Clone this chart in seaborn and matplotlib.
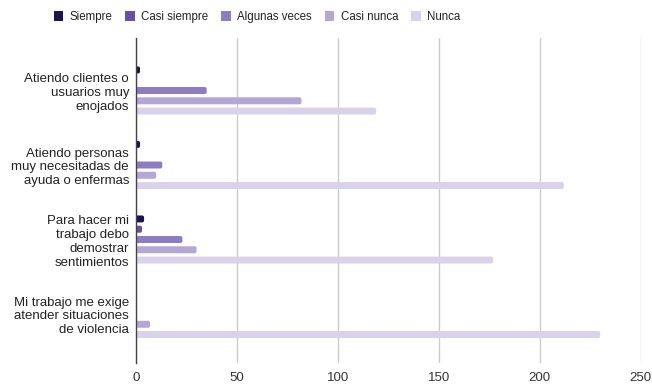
import numpy as np
import pandas as pd
import matplotlib
matplotlib.use("Agg")
import matplotlib.pyplot as plt
from matplotlib.patches import FancyBboxPatch, Patch
from matplotlib import font_manager
import seaborn as sns

# Survey items (y axis) and answer frequencies per response level
items = [
    "Atiendo clientes o\nusuarios muy\nenojados",
    "Atiendo personas\nmuy necesitadas de\nayuda o enfermas",
    "Para hacer mi\ntrabajo debo\ndemostrar\nsentimientos",
    "Mi trabajo me exige\natender situaciones\nde violencia",
]
levels = ["Siempre", "Casi siempre", "Algunas veces", "Casi nunca", "Nunca"]
siempre = [2, 2, 4, 0]
casi_siempre = [0, 0, 3, 0]
algunas_veces = [35, 13, 23, 0]
casi_nunca = [82, 10, 30, 7]
nunca = [119, 212, 177, 230]
x_ticks = [0, 50, 100, 150, 200, 250]

colors = ["#20124d", "#674ea7", "#8e7cc3", "#b4a7d6", "#d9d2e9"]

series = [siempre, casi_siempre, algunas_veces, casi_nunca, nunca]
df = pd.DataFrame(
    [(item, lvl, vals[i]) for lvl, vals in zip(levels, series) for i, item in enumerate(items)],
    columns=["item", "nivel", "valor"],
)

sns.set_theme(style="white")
plt.rcParams["font.family"] = ["Liberation Sans", "DejaVu Sans"]

installed = {f.name for f in font_manager.fontManager.ttflist}
if "Liberation Sans Narrow" in installed:
    legend_prop = {"family": "Liberation Sans Narrow", "size": 9.5}
else:
    legend_prop = {"family": "Liberation Sans", "size": 8.3}

fig = plt.figure(figsize=(6.52, 3.85), dpi=100)
ax = fig.add_axes([136 / 652, 1 - 363 / 385, (640.5 - 136) / 652, (363 - 38) / 385])

sns.barplot(
    data=df, y="item", x="valor", hue="nivel", order=items, hue_order=levels,
    palette=colors, orient="h", width=0.69, gap=0.32, saturation=1,
    legend=False, ax=ax, linewidth=0,
)

# Rounded bar ends
px_x = (640.5 - 136) / 250.0
px_y = 74.5
radius_px = 2.0
for patch in list(ax.patches):
    x, y = patch.get_x(), patch.get_y()
    w, h = patch.get_width(), patch.get_height()
    fc = patch.get_facecolor()
    patch.remove()
    if w <= 0:
        continue
    r = min(radius_px / px_x, w / 2)
    fb = FancyBboxPatch(
        (x, y), w, h,
        boxstyle=f"round,pad=0,rounding_size={r}",
        mutation_aspect=(1 / px_y) / (1 / px_x),
        facecolor=fc, edgecolor="none", linewidth=0, zorder=3,
    )
    ax.add_patch(fb)

ax.set_xlim(0, 250)
ax.set_ylim(3.658, -0.705)
ax.set_xticks(x_ticks)
ax.set_xlabel("")
ax.set_ylabel("")

ax.grid(axis="x", color="#cccccc", linewidth=1, zorder=0)
ax.grid(axis="y", visible=False)
ax.set_axisbelow(True)
for side in ["top", "right", "bottom"]:
    ax.spines[side].set_visible(False)
ax.spines["left"].set_color("#444444")
ax.spines["left"].set_linewidth(1)
ax.spines["left"].set_zorder(4)

ax.tick_params(axis="x", length=0, pad=6.5, labelsize=9.5, labelcolor="#333333")
ax.tick_params(axis="y", length=0, pad=5, labelsize=9.5, labelcolor="#222222")
for lbl in ax.get_yticklabels():
    lbl.set_horizontalalignment("right")
    lbl.set_multialignment("right")
    lbl.set_linespacing(1.2)

handles = [Patch(facecolor=c, edgecolor="none") for c in colors]
fig.legend(
    handles, levels, loc="center", bbox_to_anchor=(257 / 652, 1 - 17 / 385),
    ncol=5, frameon=False, prop=legend_prop, handlelength=0.85, handleheight=0.85,
    handletextpad=0.55, columnspacing=1.1, labelcolor="#222222",
)

fig.savefig("out.png", dpi=100)
